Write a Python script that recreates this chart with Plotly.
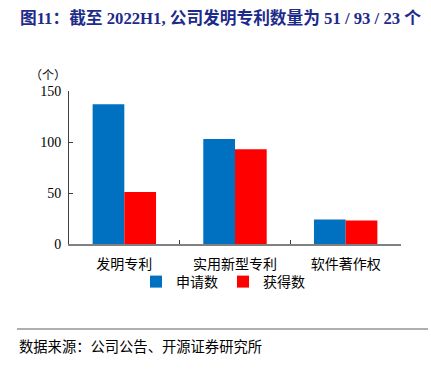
import plotly.graph_objects as go

categories = ["发明专利", "实用新型专利", "软件著作权"]
applied = [137, 103, 24]
granted = [51, 93, 23]
series_names = ["申请数", "获得数"]
y_ticks = [0, 50, 100, 150]

FONT = "Liberation Serif, Times New Roman, Noto Sans CJK SC, serif"
CJK = "Noto Sans CJK SC, Liberation Serif, serif"

fig = go.Figure()
fig.add_trace(go.Bar(x=categories, y=applied, name=series_names[0],
                     marker=dict(color="#0070C0", line=dict(width=0))))
fig.add_trace(go.Bar(x=categories, y=granted, name=series_names[1],
                     marker=dict(color="#FF0000", line=dict(width=0))))

L, R, T, B = 69, 30, 91, 128
W, H = 431, 372
pw, ph = W - L - R, H - T - B

def px(x):
    return (x - L) / pw

def py(y):
    return (H - B - y) / ph

fig.update_layout(
    width=W, height=H,
    margin=dict(l=L, r=R, t=T, b=B, pad=0),
    paper_bgcolor="white", plot_bgcolor="white",
    barmode="group", bargap=0.427, bargroupgap=0,
    font=dict(family=FONT, size=14, color="#000000"),
    title=dict(text="<b>图11：截至 2022H1, 公司发明专利数量为 51 / 93 / 23 个</b>",
               x=20 / W, xanchor="left", xref="container",
               y=1 - 18 / H, yanchor="middle", yref="container",
               font=dict(family=FONT, size=16.7, color="#1d2b8a")),
    xaxis=dict(showline=True, linecolor="#808080", linewidth=1.5,
               ticks="inside", tickson="boundaries", ticklen=4, tickcolor="#404040",
               tickfont=dict(family=CJK, size=14), showgrid=False, zeroline=False,
               ticklabelstandoff=6, automargin=False),
    yaxis=dict(range=[0, 150], tickvals=y_ticks, showline=True, linecolor="#404040",
               linewidth=1, ticks="inside", ticklen=4, tickcolor="#404040",
               showgrid=False, zeroline=False, tickfont=dict(family=FONT, size=14),
               ticklabelstandoff=4, automargin=False),
    legend=dict(orientation="h", x=px(223), xanchor="center", y=py(282), yanchor="middle",
                font=dict(family=CJK, size=14), itemwidth=30, traceorder="normal",
                bgcolor="rgba(0,0,0,0)"),
    showlegend=True,
)

fig.add_annotation(text="（个）", xref="paper", yref="paper", x=px(48), y=py(75),
                   showarrow=False, xanchor="center", yanchor="middle",
                   font=dict(family=CJK, size=12))
fig.add_shape(type="line", xref="paper", yref="paper", x0=px(17), x1=px(428),
              y0=py(329), y1=py(329), line=dict(color="#606060", width=1.2))
fig.add_annotation(text="数据来源：公司公告、开源证券研究所", xref="paper", yref="paper",
                   x=px(17), y=py(345), showarrow=False, xanchor="left", yanchor="middle",
                   font=dict(family=CJK, size=14.3))

fig.write_html("out.html", config={"displayModeBar": False},
               post_script="document.body.style.margin='0';document.body.style.overflow='hidden';")
